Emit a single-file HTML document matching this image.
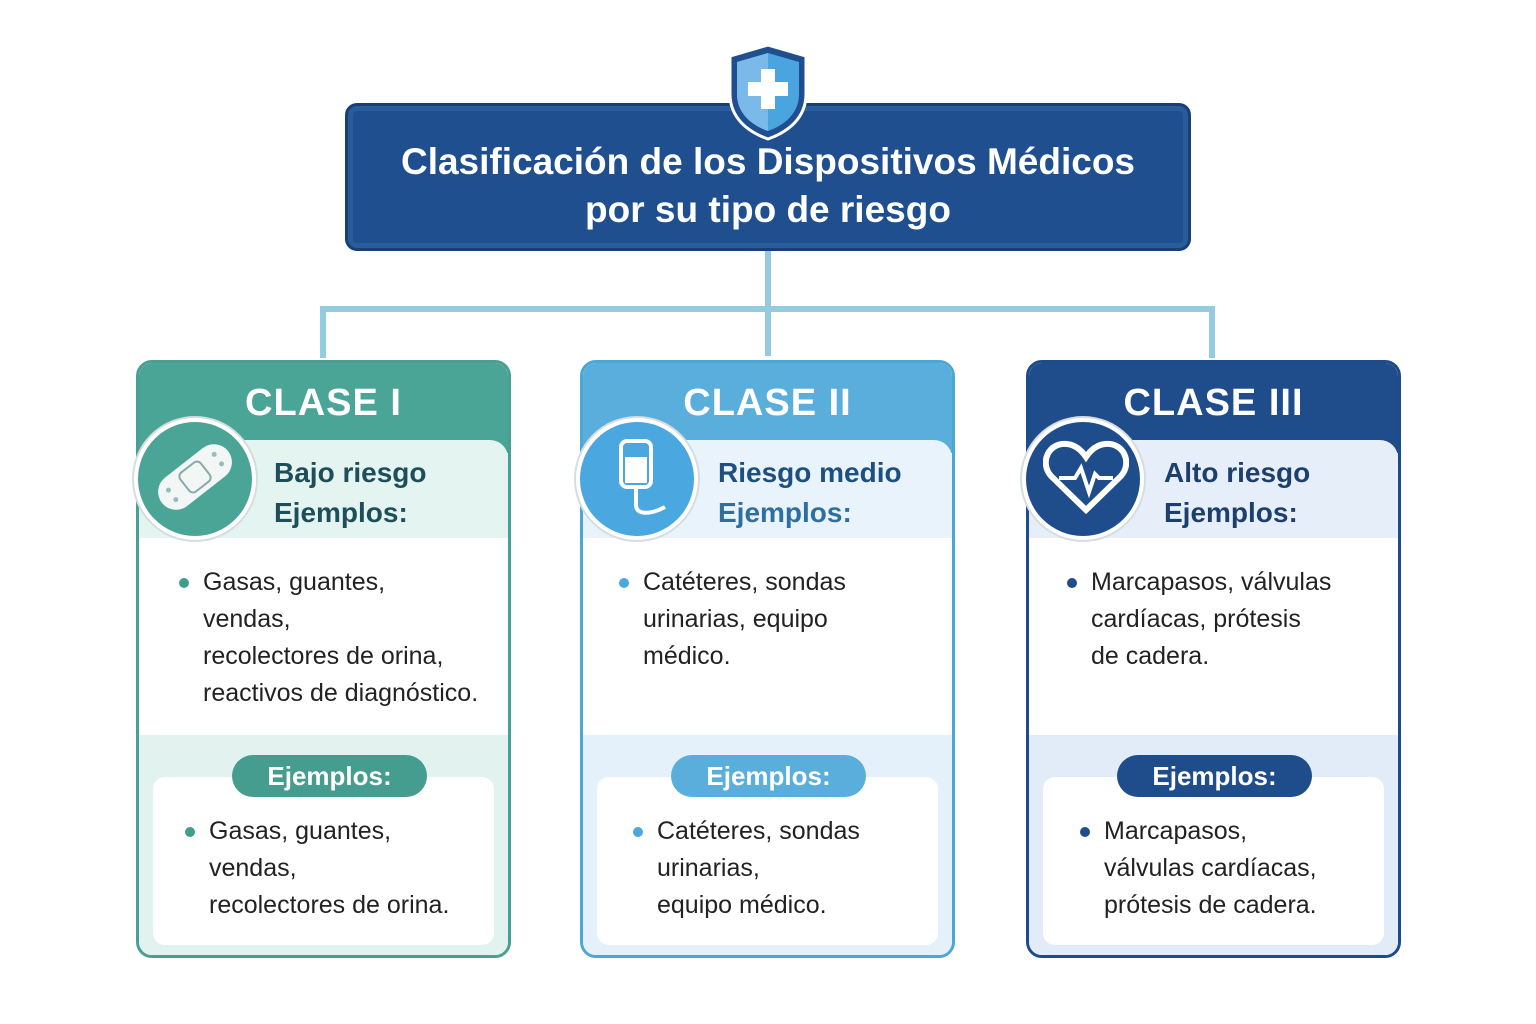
<!DOCTYPE html>
<html><head><meta charset="utf-8"><style>
*{margin:0;padding:0;box-sizing:border-box}
body{width:1536px;height:1024px;background:#fff;position:relative;font-family:"Liberation Sans",sans-serif;overflow:hidden}
.abs{position:absolute}
.title{left:345px;top:103px;width:846px;height:148px;background:#1f4f8e;border:3px solid #173f78;border-radius:12px;box-shadow:inset 0 0 0 5px #2a5c9b}
.title div{position:absolute;left:0;right:0;text-align:center;color:#fff;font-weight:bold;font-size:37px}
.card{position:absolute;top:360px;width:375px;height:598px;border:3px solid;border-radius:16px;overflow:hidden;background:#fff}
.hdr{position:absolute;left:0;right:0;top:0;height:90px;text-align:center;color:#fff;font-weight:bold;font-size:38px;line-height:80px;letter-spacing:1px}
.lt{position:absolute;left:0;right:0;top:77px;height:98px;border-radius:18px 18px 0 0}
.sub{position:absolute;left:135px;top:90px;font-weight:bold;font-size:28px;line-height:40px}
.list{position:absolute;font-size:25px;line-height:37px;color:#222}
.bot{position:absolute;left:0;right:0;top:372px;bottom:0}
.inner{position:absolute;left:14px;right:14px;top:42px;bottom:10px;background:#fff;border-radius:12px}
.pill{position:absolute;top:20px;height:42px;width:195px;border-radius:21px;color:#fff;font-weight:bold;font-size:26px;text-align:center;line-height:42px}
.dot{position:absolute;width:10px;height:10px;border-radius:50%}
.icon{position:absolute;width:122px;height:122px;border-radius:50%;border:4px solid #fff;box-shadow:0 0 0 2px #d5dde0}
.line{position:absolute;background:#93cbe0}
</style></head><body>
<div class="line" style="left:765px;top:250px;width:6px;height:106px"></div>
<div class="line" style="left:320px;top:306px;width:895px;height:6px;border-radius:3px"></div>
<div class="line" style="left:320px;top:306px;width:6px;height:52px"></div>
<div class="line" style="left:1209px;top:306px;width:6px;height:52px"></div>

<div class="abs title"><div style="top:35px">Clasificación de los Dispositivos Médicos</div><div style="top:83px">por su tipo de riesgo</div></div>
<svg class="abs" style="left:724px;top:42px" width="88" height="100" viewBox="0 0 88 100">
<path d="M44 3 L82 14 L82 52 C82 76 64 90 44 97 C24 90 6 76 6 52 L6 14 Z" fill="#1f4f8e" stroke="#fff" stroke-width="3"/>
<path d="M44 11 L75 20 L75 52 C75 71 61 83 44 89 C27 83 13 71 13 52 L13 20 Z" fill="#4aa4e0"/>
<path d="M44 11 L13 20 L13 52 C13 71 27 83 44 89 Z" fill="#7ab9ea"/>
<rect x="37" y="27" width="14" height="40" fill="#fff"/><rect x="24" y="40" width="40" height="14" fill="#fff"/>
</svg>

<!-- Card I -->
<div class="card" style="left:136px;border-color:#4a9f93">
<div class="hdr" style="background:#4aa597">CLASE I</div>
<div class="lt" style="background:#e3f4f1"></div>
<div class="sub" style="color:#1d4e5a">Bajo riesgo<br>Ejemplos:</div>
<div class="list" style="left:64px;top:201px">Gasas, guantes,<br>vendas,<br>recolectores de orina,<br>reactivos de diagnóstico.</div>
<div class="dot" style="left:40px;top:215px;background:#3f9f8f"></div>
<div class="bot" style="background:#e2f3ef"><div class="inner"></div>
<div class="pill" style="left:93px;background:#459d8f">Ejemplos:</div>
<div class="list" style="left:70px;top:78px">Gasas, guantes,<br>vendas,<br>recolectores de orina.</div>
<div class="dot" style="left:46px;top:92px;background:#3f9f8f"></div></div>
</div>
<div class="icon" style="left:134px;top:418px;background:#4aa597"></div>
<svg class="abs" style="left:150px;top:435px" width="90" height="85"><g transform="rotate(-38 45 42)"><rect x="3" y="24" width="84" height="36" rx="18" fill="#f2f7f5"/><rect x="32" y="30" width="26" height="24" rx="5" fill="none" stroke="#8aa" stroke-width="2"/><circle cx="16" cy="36" r="2.5" fill="#9bb"/><circle cx="16" cy="48" r="2.5" fill="#9bb"/><circle cx="74" cy="36" r="2.5" fill="#9bb"/><circle cx="74" cy="48" r="2.5" fill="#9bb"/></g></svg>

<!-- Card II -->
<div class="card" style="left:580px;border-color:#4aa7d6">
<div class="hdr" style="background:#5aaedc">CLASE II</div>
<div class="lt" style="background:#e8f3fb"></div>
<div class="sub" style="color:#1f4f7e">Riesgo medio<br><span style="color:#2f6fa0">Ejemplos:</span></div>
<div class="list" style="left:60px;top:201px">Catéteres, sondas<br>urinarias, equipo<br>médico.</div>
<div class="dot" style="left:36px;top:215px;background:#49a8dc"></div>
<div class="bot" style="background:#e4f1fb"><div class="inner"></div>
<div class="pill" style="left:88px;background:#5aaedc">Ejemplos:</div>
<div class="list" style="left:74px;top:78px">Catéteres, sondas<br>urinarias,<br>equipo médico.</div>
<div class="dot" style="left:50px;top:92px;background:#49a8dc"></div></div>
</div>
<div class="icon" style="left:576px;top:418px;background:#4aa7e0"></div>
<svg class="abs" style="left:605px;top:435px" width="70" height="90"><rect x="16" y="6" width="30" height="46" rx="6" fill="none" stroke="#fff" stroke-width="4"/><rect x="20" y="22" width="22" height="26" fill="#fff"/><path d="M31 52 V70 C31 80 45 80 60 72" fill="none" stroke="#fff" stroke-width="4"/></svg>

<!-- Card III -->
<div class="card" style="left:1026px;border-color:#1e4b8a">
<div class="hdr" style="background:#1f4d8c">CLASE III</div>
<div class="lt" style="background:#e6eff9"></div>
<div class="sub" style="left:135px;color:#1c3f6e">Alto riesgo<br>Ejemplos:</div>
<div class="list" style="left:62px;top:201px">Marcapasos, válvulas<br>cardíacas, prótesis<br>de cadera.</div>
<div class="dot" style="left:38px;top:215px;background:#1f4d8c"></div>
<div class="bot" style="background:#e2ecf8"><div class="inner"></div>
<div class="pill" style="left:88px;background:#1f4d8c">Ejemplos:</div>
<div class="list" style="left:75px;top:78px">Marcapasos,<br>válvulas cardíacas,<br>prótesis de cadera.</div>
<div class="dot" style="left:51px;top:92px;background:#1f4d8c"></div></div>
</div>
<div class="icon" style="left:1022px;top:418px;background:#1f4d8c"></div>
<svg class="abs" style="left:1043px;top:440px" width="86" height="75" viewBox="0 0 86 75"><path d="M43 70 L8 36 C-4 22 6 2 24 4 C33 5 39 11 43 17 C47 11 53 5 62 4 C80 2 90 22 78 36 Z" fill="none" stroke="#fff" stroke-width="6"/><polyline points="16,38 32,38 38,28 46,52 52,34 56,38 70,38" fill="none" stroke="#fff" stroke-width="4"/></svg>
</body></html>
